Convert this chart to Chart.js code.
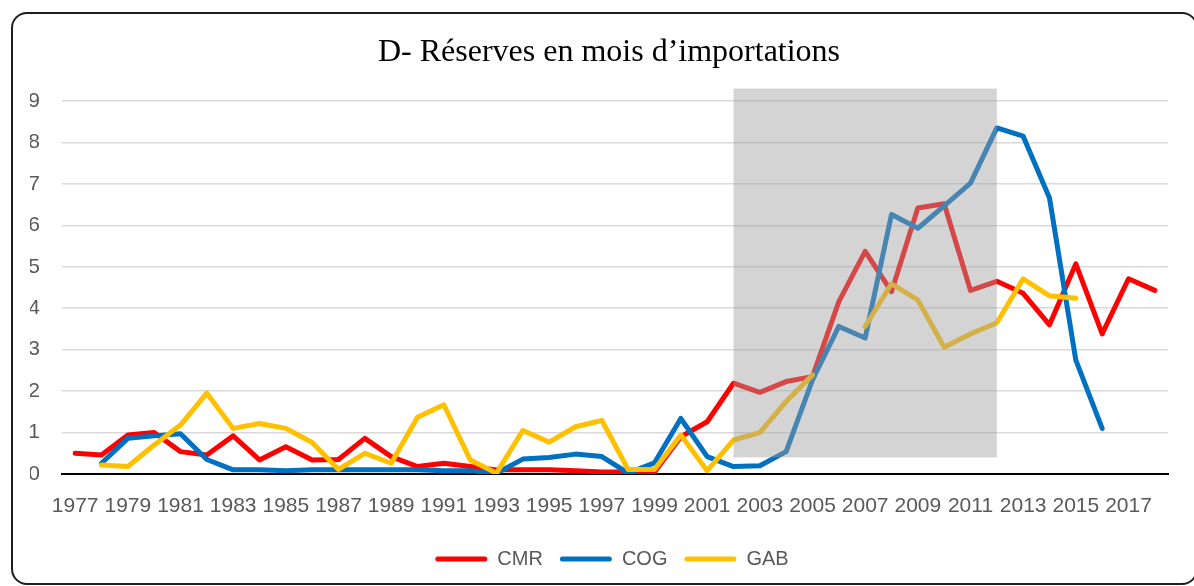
<!DOCTYPE html>
<html>
<head>
<meta charset="utf-8">
<script src="https://cdn.jsdelivr.net/npm/chart.js@4/dist/chart.umd.min.js"></script>
<style>
  body { margin: 0; background: #fff; overflow: hidden; }
  #wrap { position: relative; width: 1194px; height: 586px; }
  #cadre {
    position: absolute; left: 11px; top: 12px; width: 1187px; height: 573px;
    box-sizing: border-box; border: 2px solid #1e1e1e; border-radius: 16px;
    pointer-events: none;
  }
</style>
</head>
<body>
<div id="wrap">
  <canvas id="graphe" width="1194" height="586"></canvas>
  <div id="cadre"></div>
</div>
<script>
// données
const years = ['1977','1978','1979','1980','1981','1982','1983','1984','1985','1986',
  '1987','1988','1989','1990','1991','1992','1993','1994','1995','1996',
  '1997','1998','1999','2000','2001','2002','2003','2004','2005','2006',
  '2007','2008','2009','2010','2011','2012','2013','2014','2015','2016',
  '2017','2018']

const cmr = [0.50, 0.46, 0.94, 1.00, 0.54, 0.46, 0.92, 0.34, 0.66, 0.34,
  0.35, 0.86, 0.42, 0.18, 0.26, 0.18, 0.10, 0.10, 0.10, 0.08,
  0.05, 0.05, 0.05, 0.90, 1.26, 2.19, 1.97, 2.23, 2.35, 4.16,
  5.37, 4.40, 6.42, 6.52, 4.43, 4.65, 4.36, 3.60, 5.07, 3.38,
  4.71, 4.43]

const cog = [null, 0.26, 0.86, 0.92, 0.97, 0.35, 0.10, 0.10, 0.08, 0.10,
  0.10, 0.10, 0.10, 0.10, 0.08, 0.08, 0.02, 0.36, 0.40, 0.48,
  0.42, 0.02, 0.27, 1.34, 0.42, 0.18, 0.20, 0.54, 2.27, 3.56,
  3.28, 6.26, 5.93, 6.47, 7.02, 8.35, 8.15, 6.66, 2.75, 1.10,
  null, null]

const gab = [null, 0.22, 0.18, 0.70, 1.18, 1.95, 1.10, 1.22, 1.10, 0.76,
  0.11, 0.50, 0.26, 1.37, 1.67, 0.34, 0.02, 1.05, 0.77, 1.14,
  1.29, 0.11, 0.11, 0.94, 0.08, 0.82, 1.00, 1.75, 2.39, null,
  3.56, 4.59, 4.20, 3.06, 3.38, 3.65, 4.71, 4.30, 4.24, null,
  null, null]

const titre = 'D- Réserves en mois d’importations'

// zone grisée (période 2002-2012)
const zoneDebut = '2002'
const zoneFin = '2012'
const zoneHaut = 9.3
const zoneBas = 0.4

const police = "'Liberation Sans', Arial, sans-serif"

// plugin pour la zone grisée, dessinée par-dessus les courbes
const zoneGrise = {
  id: 'zoneGrise',
  afterDatasetsDraw(chart) {
    const { ctx, scales: { x, y } } = chart
    const x1 = x.getPixelForValue(years.indexOf(zoneDebut))
    const x2 = x.getPixelForValue(years.indexOf(zoneFin))
    const y1 = y.getPixelForValue(zoneHaut)
    const y2 = y.getPixelForValue(zoneBas)
    ctx.save()
    ctx.fillStyle = 'rgba(160, 160, 160, 0.45)'
    ctx.fillRect(x1, y1, x2 - x1, y2 - y1)
    ctx.restore()
  }
}

// titre un peu décalé à droite comme dans l'original
const titreDecale = {
  id: 'titreDecale',
  afterDraw(chart) {
    const { ctx } = chart
    ctx.save()
    ctx.fillStyle = '#000'
    ctx.font = "32px 'Liberation Serif', 'Times New Roman', serif"
    ctx.textAlign = 'center'
    ctx.textBaseline = 'middle'
    ctx.fillText(titre, 609, 53)
    ctx.restore()
  }
}

function serie(label, data, couleur, ordre) {
  return {
    label: label,
    data: data,
    borderColor: couleur,
    backgroundColor: couleur,
    borderWidth: 5,
    borderJoinStyle: 'round',
    borderCapStyle: 'round',
    pointRadius: 0,
    tension: 0,
    order: ordre
  }
}

const ctx = document.getElementById('graphe').getContext('2d')

new Chart(ctx, {
  type: 'line',
  data: {
    labels: years,
    datasets: [
      serie('CMR', cmr, '#ff0000', 2),
      serie('COG', cog, '#0070c0', 1),
      serie('GAB', gab, '#ffc000', 0)
    ]
  },
  options: {
    responsive: false,
    animation: false,
    layout: { padding: { left: 30, right: 0, top: 101, bottom: 7 } },
    plugins: {
      title: { display: false },
      legend: {
        position: 'bottom',
        labels: {
          color: '#595959',
          font: { family: police, size: 20 },
          boxWidth: 52,
          boxHeight: 5,
          padding: 17,
          useBorderRadius: true,
          borderRadius: 2.5,
          sort: (a, b) => a.datasetIndex - b.datasetIndex,
          generateLabels(chart) {
            const items = Chart.defaults.plugins.legend.labels.generateLabels(chart)
            items.forEach(it => { it.lineWidth = 0 })
            return items
          }
        }
      },
      tooltip: { enabled: false }
    },
    scales: {
      x: {
        offset: true,
        grid: { display: false, drawTicks: false },
        border: { display: true, color: '#000', width: 2 },
        ticks: {
          autoSkip: false,
          maxRotation: 0,
          padding: 20,
          color: '#595959',
          font: { family: police, size: 21 },
          callback: function(v, i) { return i % 2 === 0 ? years[i] : '' }
        },
        afterFit: function(scale) { scale.height = 58 }
      },
      y: {
        min: 0,
        max: 9,
        grid: { color: '#d9d9d9', lineWidth: 1.5, drawTicks: false },
        border: { display: false },
        ticks: {
          stepSize: 1,
          padding: 22,
          color: '#595959',
          font: { family: police, size: 21 }
        },
        afterFit: function(scale) { scale.width = 32 }
      },
      // axe vide à droite pour garder la marge de l'original
      y2: {
        position: 'right',
        display: true,
        grid: { display: false, drawTicks: false },
        border: { display: false },
        ticks: { display: false },
        afterFit: function(scale) { scale.width = 26 }
      }
    }
  },
  plugins: [zoneGrise, titreDecale]
})
</script>
</body>
</html>
